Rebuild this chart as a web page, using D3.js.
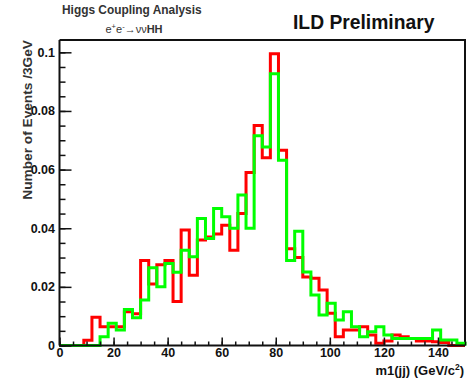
<!DOCTYPE html>
<html>
<head>
<meta charset="utf-8">
<script src="https://cdn.jsdelivr.net/npm/d3@7"></script>
<style>
  body { margin: 0; background: #fff; }
  svg text { font-family: "Liberation Sans", Arial, sans-serif; }
</style>
</head>
<body>
<div id="chart"></div>
<script>
// bin width 3 GeV, 50 bins from 0 to 150
const binLow = d3.range(0, 150, 3);

// red histogram (values per bin)
const redValues = [
  0, 0, 0, 0.0018, 0.0096, 0.0064, 0.0064, 0.0064, 0.0115, 0.0108,
  0.029, 0.021, 0.0275, 0.029, 0.015, 0.0394, 0.024, 0.036, 0.037, 0.038,
  0.041, 0.0325, 0.045, 0.059, 0.075, 0.064, 0.0995, 0.0666, 0.033, 0.030,
  0.0234, 0.0229, 0.0189, 0.011, 0.003, 0.0053, 0.0053, 0.0064, 0.0036, 0.0008,
  0.0015, 0.0036, 0.003, 0.0024, 0.0015, 0.0015, 0.0013, 0.001, 0, 0
];

// green histogram
const greenValues = [
  0, 0, 0, 0, 0, 0.003, 0.0076, 0.0053, 0.0123, 0.0095,
  0.0155, 0.0265, 0.020, 0.028, 0.025, 0.0325, 0.0303, 0.0433, 0.0365, 0.0467,
  0.0439, 0.040, 0.0513, 0.040, 0.0715, 0.0677, 0.0927, 0.0632, 0.029, 0.039,
  0.0251, 0.0172, 0.0104, 0.0144, 0.0087, 0.0115, 0.0064, 0.003, 0.0047, 0.0064,
  0.0036, 0.0024, 0.0024, 0.0024, 0.0024, 0.0024, 0.0053, 0.0019, 0.0019, 0.0008
];

const xMajor = [0, 20, 40, 60, 80, 100, 120, 140];
const xMinor = d3.range(0, 151, 5);
const yMajor = [0, 0.02, 0.04, 0.06, 0.08, 0.1];
const yMinor = d3.range(0, 0.1001, 0.005);
const yLabels = ["0", "0.02", "0.04", "0.06", "0.08", "0.1"];

const W = 467, H = 382;
const frame = { left: 59.5, right: 465, top: 40, bottom: 345.5 };

const svg = d3.select("#chart").append("svg")
    .attr("width", W)
    .attr("height", H);

const x = d3.scaleLinear().domain([0, 150]).range([frame.left, frame.right]);
const y = d3.scaleLinear().domain([0, 0.1042]).range([frame.bottom, frame.top]);

// frame top / right
svg.append("path")
    .attr("d", `M${frame.left},${frame.top}H${frame.right}V${frame.bottom}`)
    .attr("fill", "none")
    .attr("stroke", "#111")
    .attr("stroke-width", 2);

// histograms as step outlines
const step = d3.line()
    .x(d => x(d[0]))
    .y(d => y(d[1]))
    .curve(d3.curveStepAfter);

function histPoints(vals) {
  const pts = [[0, 0]];
  vals.forEach((v, i) => pts.push([binLow[i], v]));
  pts.push([150, vals[vals.length - 1]]);
  pts.push([150, 0]);
  return pts;
}

svg.append("path")
    .datum(histPoints(redValues))
    .attr("fill", "none")
    .attr("stroke", "#ff0000")
    .attr("stroke-width", 3)
    .attr("stroke-linejoin", "miter")
    .attr("d", step);

svg.append("path")
    .datum(histPoints(greenValues))
    .attr("fill", "none")
    .attr("stroke", "#00ff00")
    .attr("stroke-width", 3)
    .attr("stroke-linejoin", "miter")
    .attr("d", step);

// y axis (ticks point inward)
const yMinorAxis = svg.append("g")
    .attr("transform", `translate(${frame.left},0)`)
    .call(d3.axisLeft(y).tickValues(yMinor).tickSize(-6).tickFormat(""));
yMinorAxis.select(".domain").remove();

const yAxis = svg.append("g")
    .attr("transform", `translate(${frame.left},0)`)
    .call(d3.axisLeft(y).tickValues(yMajor).tickSize(-12).tickPadding(4.5)
      .tickFormat((d, i) => yLabels[i]));
yAxis.select(".domain").attr("d", `M0,${frame.bottom}V${frame.top}`);

// x axis
const xMinorAxis = svg.append("g")
    .attr("transform", `translate(0,${frame.bottom})`)
    .call(d3.axisBottom(x).tickValues(xMinor).tickSize(-4).tickFormat(""));
xMinorAxis.select(".domain").remove();

const xAxis = svg.append("g")
    .attr("transform", `translate(0,${frame.bottom})`)
    .call(d3.axisBottom(x).tickValues(xMajor).tickSize(-8).tickPadding(3));
xAxis.select(".domain").attr("d", `M${frame.left},0H${frame.right}`);

svg.selectAll(".tick line").attr("stroke", "#111").attr("stroke-width", 1.5);
svg.selectAll(".domain").attr("stroke", "#111").attr("stroke-width", 2);
svg.selectAll(".tick text")
    .attr("font-family", "Liberation Sans, Arial, sans-serif")
    .attr("font-size", 12.5)
    .attr("font-weight", "bold")
    .attr("fill", "#111");

// axis titles
svg.append("text")
    .attr("transform", `translate(32,${frame.top}) rotate(-90)`)
    .attr("text-anchor", "end")
    .attr("font-size", 13.7)
    .attr("font-weight", "bold")
    .attr("fill", "#333")
    .text("Number of Events /3GeV");

svg.append("text")
    .attr("x", 464)
    .attr("y", 375)
    .attr("text-anchor", "end")
    .attr("font-size", 13)
    .attr("font-weight", "bold")
    .attr("fill", "#111")
    .html("m1(jj) (GeV/c<tspan dy='-5' font-size='8.5'>2</tspan><tspan dy='5'>)</tspan>");

// headers
svg.append("text")
    .attr("x", 62)
    .attr("y", 14)
    .attr("font-size", 11.9)
    .attr("font-weight", "bold")
    .attr("fill", "#333")
    .text("Higgs Coupling Analysis");

svg.append("text")
    .attr("x", 134)
    .attr("y", 33)
    .attr("text-anchor", "middle")
    .attr("font-size", 11)
    .attr("fill", "#333")
    .html("e<tspan dy='-4' font-size='7.5'>+</tspan><tspan dy='4'>e</tspan><tspan dy='-4' font-size='7.5'>-</tspan><tspan dy='4'>→νν</tspan><tspan font-weight='bold'>HH</tspan>");

svg.append("text")
    .attr("x", 293)
    .attr("y", 29)
    .attr("font-size", 19.3)
    .attr("font-weight", "bold")
    .attr("fill", "#111")
    .text("ILD Preliminary");
</script>
</body>
</html>
